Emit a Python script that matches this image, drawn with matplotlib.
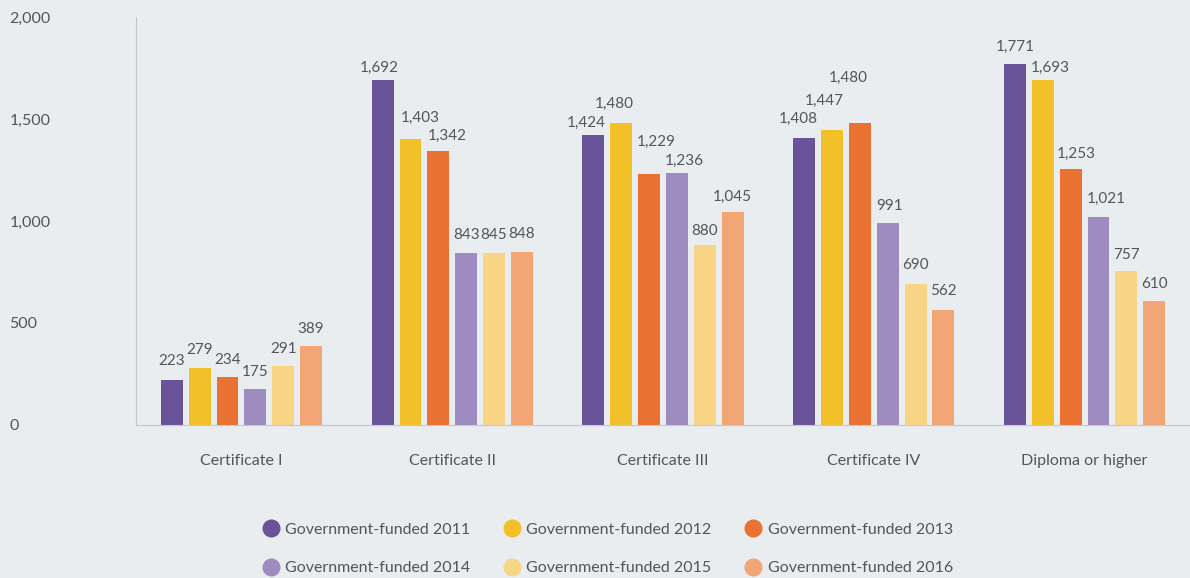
import numpy as np
import matplotlib.pyplot as plt
from matplotlib.lines import Line2D

categories = ["Certificate I", "Certificate II", "Certificate III",
              "Certificate IV", "Diploma or higher"]
series = ["Government-funded 2011", "Government-funded 2012",
          "Government-funded 2013", "Government-funded 2014",
          "Government-funded 2015", "Government-funded 2016"]
v2011 = [223, 1692, 1424, 1408, 1771]
v2012 = [279, 1403, 1480, 1447, 1693]
v2013 = [234, 1342, 1229, 1480, 1253]
v2014 = [175, 843, 1236, 991, 1021]
v2015 = [291, 845, 880, 690, 757]
v2016 = [389, 848, 1045, 562, 610]
colors = ["#6a5499", "#f2c12a", "#e97132", "#9e8bbf", "#f7d584", "#f2a675"]

# value label nudges in pixels (dx, dy above bar top), per series
nudge = [
    [(0, 12), (-3, 5), (-7, 5), (-6, 12), (0, 10)],
    [(0, 11), (10, 14), (-7, 12), (-8, 22), (7, 5)],
    [(0, 10), (9, 8), (7, 25), (-12, 38), (6, 8)],
    [(0, 10), (0, 11), (7, 5), (2, 10), (8, 11)],
    [(0, 10), (0, 11), (0, 7), (0, 12), (0, 9)],
    [(0, 10), (0, 11), (0, 8), (0, 12), (0, 10)],
]

bg = "#e9edf0"
txt = "#555555"
plt.rcParams['font.family'] = ['Lato', 'DejaVu Sans']

fig = plt.figure(figsize=(11.9, 5.78), dpi=100, facecolor=bg)
ax = fig.add_axes([136/1190, 1 - 425/578, (1190 - 136)/1190, (425 - 17)/578])
ax.set_facecolor(bg)

x = np.arange(len(categories))
step = 0.132
width = 0.104
values = [v2011, v2012, v2013, v2014, v2015, v2016]
for i, (vals, c) in enumerate(zip(values, colors)):
    pos = x + (i - 2.5) * step
    bars = ax.bar(pos, vals, width, color=c, edgecolor='none')
    for j, (b, v) in enumerate(zip(bars, vals)):
        dx, dy = nudge[i][j]
        ax.annotate(f"{v:,}", (b.get_x() + b.get_width() / 2, v),
                    xytext=(dx, dy), textcoords='offset pixels',
                    ha='center', va='bottom', fontsize=11, color=txt)

ax.set_xlim(-0.5, 4.5)
ax.set_ylim(0, 2000)
ax.set_xticks(x)
ax.set_xticklabels(categories, fontsize=11.5, color=txt)
ax.tick_params(axis='x', length=0, pad=21)
ax.set_yticks([0, 500, 1000, 1500, 2000])
ax.set_yticklabels([f"{t:,}" for t in [0, 500, 1000, 1500, 2000]],
                   fontsize=11.5, color=txt, ha='left')
ax.tick_params(axis='y', length=0, pad=91)
for s in ['top', 'right']:
    ax.spines[s].set_visible(False)
ax.spines['left'].set_color('#c4c8cc')
ax.spines['bottom'].set_color('#c4c8cc')

# legend filled row by row: matplotlib fills columns, so reorder
order = [0, 3, 1, 4, 2, 5]
handles = [Line2D([], [], marker='o', ls='none', markersize=13,
                  markerfacecolor=colors[k], markeredgecolor='none')
           for k in order]
labels = [series[k] for k in order]
fig.legend(handles, labels, ncol=3, loc='center',
           bbox_to_anchor=(607/1190, 1 - 549/578), frameon=False,
           labelcolor=txt, handletextpad=0.3,
           columnspacing=2.0, labelspacing=1.5, handlelength=1.2,
           prop={'size': 11.5})

fig.savefig("out.png", dpi=100, facecolor=bg)
